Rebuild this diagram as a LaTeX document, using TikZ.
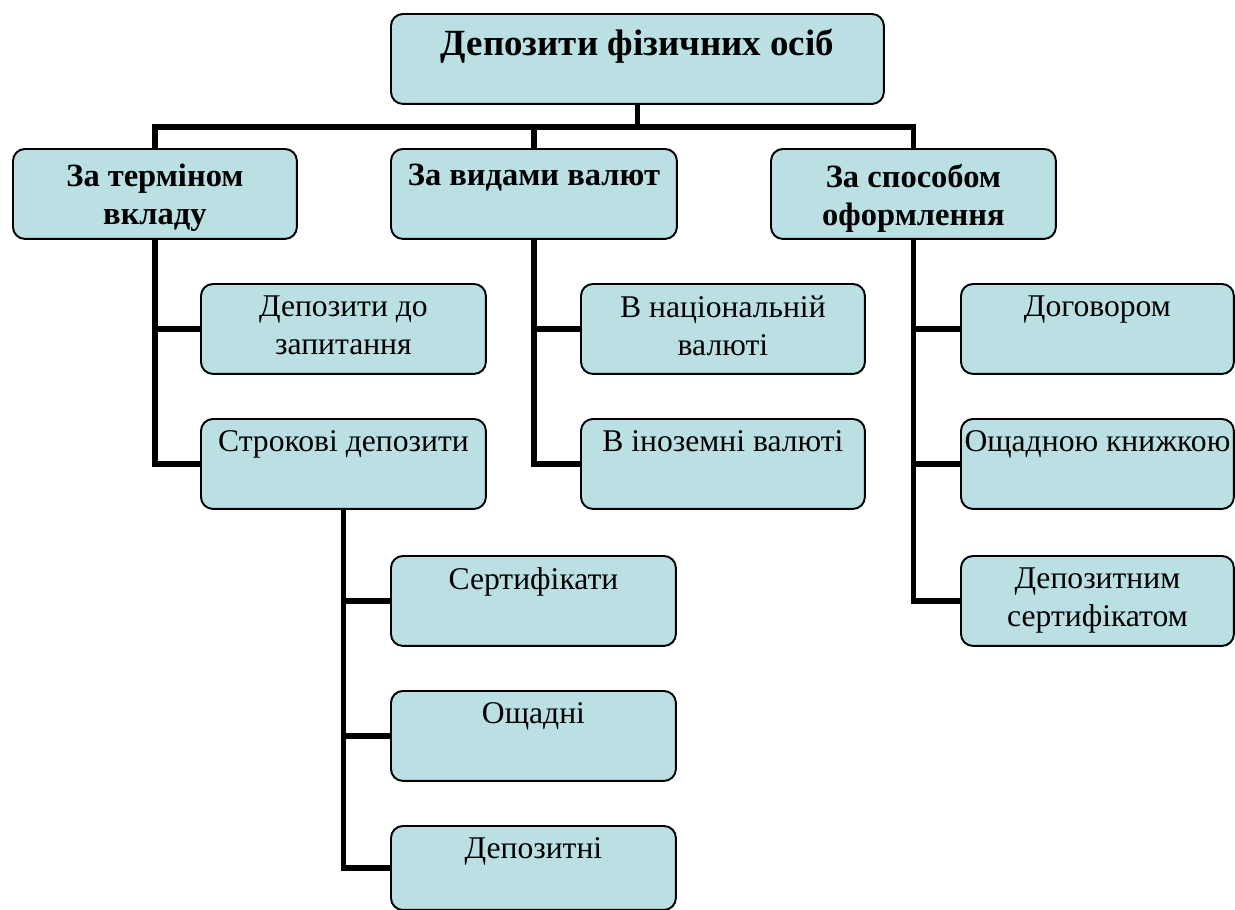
\documentclass[tikz,border=0pt]{standalone}
\usepackage{fontspec}
\setmainfont{Liberation Serif}
\usepackage{tikz}
\usetikzlibrary{arrows}

\definecolor{boxblue}{RGB}{187,224,227}
\newcommand{\bx}[3]{\parbox[t][#2][t]{#1}{\centering #3}}
\tikzset{
  box/.style={draw, line width=1.1pt, rounded corners=0.24cm, fill=boxblue,
    inner xsep=0pt, inner ysep=0.24cm, anchor=north west,
    font=\fontsize{18}{21.6}\selectfont},
  headbox/.style={box, inner ysep=0.3cm, font=\bfseries\fontsize{18.5}{21.6}\selectfont},
  titlebox/.style={headbox, font=\bfseries\fontsize{21}{25}\selectfont},
  conn/.style={line width=3pt}
}

\begin{document}
\begin{tikzpicture}[x=0.02cm,y=-0.02cm]
\useasboundingbox (0,0) rectangle (1235,910);

\node [titlebox] (top) at (390,13) {\bx{9.86cm}{1.2cm}{Депозити фізичних осіб}};

\node [headbox] (term) at (12,148) {\bx{5.68cm}{1.2cm}{За терміном\\вкладу}};
\node [headbox] (curr) at (390,148) {\bx{5.72cm}{1.2cm}{За видами валют}};
\node [headbox] (form) at (770,148) {\bx{5.7cm}{1.2cm}{За способом\\оформлення}};

\node [box] (demand) at (200,283) {\bx{5.7cm}{1.32cm}{Депозити до\\запитання}};
\node [box] (fixed) at (200,418) {\bx{5.7cm}{1.32cm}{Строкові депозити}};

\node [box] (natl) at (580,283) {\bx{5.68cm}{1.32cm}{В національній\\валюті}};
\node [box] (forn) at (580,418) {\bx{5.68cm}{1.32cm}{В іноземні валюті}};

\node [box] (contract) at (960,283) {\bx{5.46cm}{1.32cm}{Договором}};
\node [box] (book) at (960,418) {\bx{5.46cm}{1.32cm}{Ощадною книжкою}};
\node [box] (cert) at (960,555) {\bx{5.46cm}{1.32cm}{Депозитним\\сертифікатом}};

\node [box] (certs) at (390,555) {\bx{5.7cm}{1.32cm}{Сертифікати}};
\node [box] (savings) at (390,690) {\bx{5.7cm}{1.32cm}{Ощадні}};
\node [box] (depos) at (390,825) {\bx{5.7cm}{1.2cm}{Депозитні}};

\draw [conn] (top.south) -- ++(0,22) coordinate (bus) -| (term.north);
\draw [conn] (bus) -| (curr.north);
\draw [conn] (bus) -| (form.north);

\draw [conn] (term.south) |- (demand.west);
\draw [conn] (term.south) |- (fixed.west);
\draw [conn] (curr.south) |- (natl.west);
\draw [conn] (curr.south) |- (forn.west);
\draw [conn] (form.south) |- (contract.west);
\draw [conn] (form.south) |- (book.west);
\draw [conn] (form.south) |- (cert.west);
\draw [conn] (fixed.south) |- (certs.west);
\draw [conn] (fixed.south) |- (savings.west);
\draw [conn] (fixed.south) |- (depos.west);
\end{tikzpicture}
\end{document}
